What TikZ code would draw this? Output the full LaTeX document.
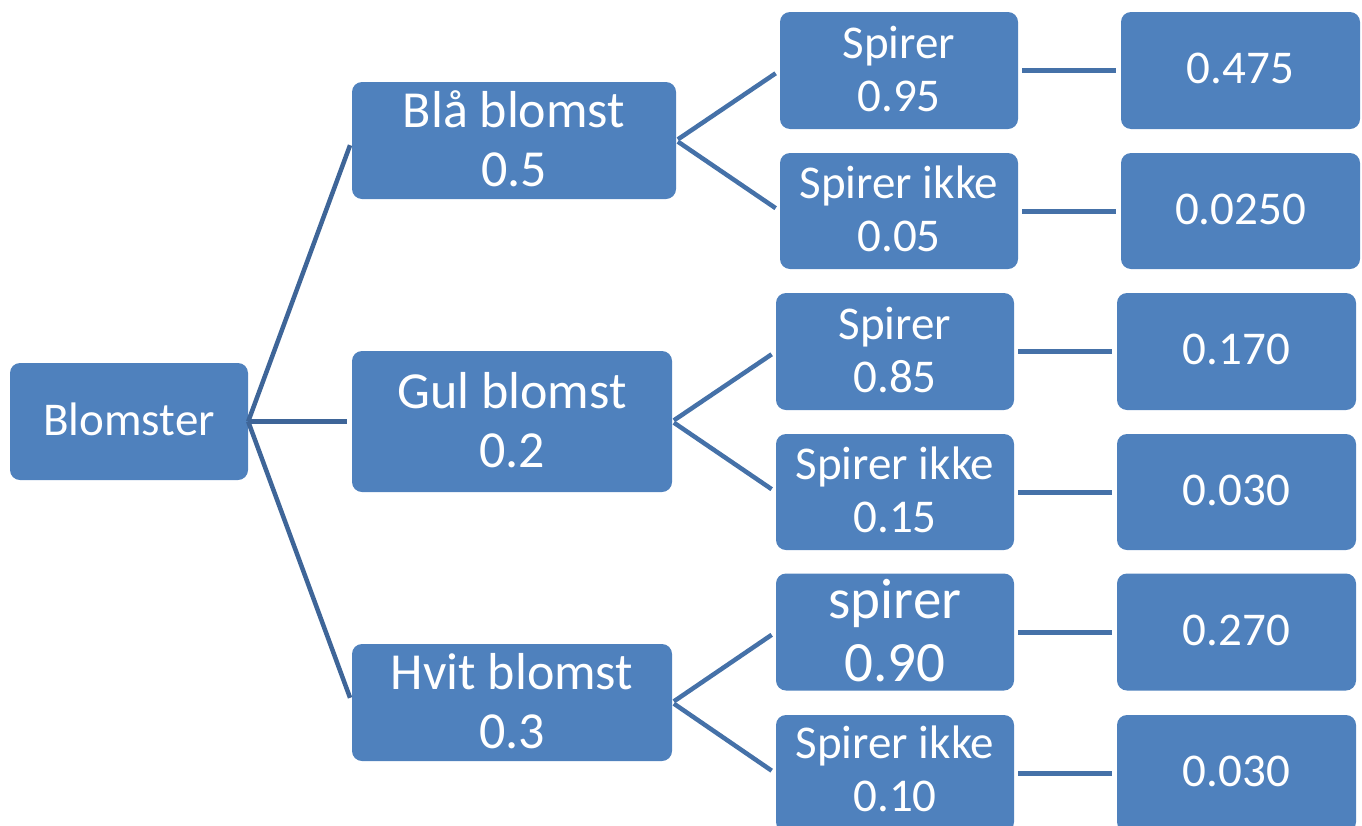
\documentclass[tikz,border=0pt]{standalone}
\usepackage{fontspec}
\setmainfont{Carlito}
\definecolor{boxblue}{HTML}{4F81BD}
\definecolor{rootline}{HTML}{3E6598}
\definecolor{branchline}{HTML}{4571A8}
\begin{document}
\begin{tikzpicture}[x=1pt,y=-1pt,
  box/.style={fill=boxblue, rounded corners=10pt, text=white, align=center,
    inner sep=0pt, minimum height=117pt, text depth=4pt},
  rootbox/.style={box, minimum width=238pt, font=\fontsize{47}{53}\selectfont},
  lvlone/.style={box, font=\fontsize{52}{59}\selectfont},
  lvltwo/.style={box, minimum width=238pt, font=\fontsize{47}{53}\selectfont},
  leaf/.style={box, minimum width=239pt, font=\fontsize{47}{53}\selectfont},
  fan/.style={draw=rootline, line width=4.5pt, shorten >=5pt},
  branch/.style={draw=branchline, line width=4.5pt, shorten >=5pt, shorten <=2pt},
  link/.style={draw=branchline, line width=5pt, shorten >=5pt, shorten <=4pt}
]
\useasboundingbox (0,0) rectangle (1362,825);
\clip (0,0) rectangle (1362,825);

% root
\node[rootbox] (root) at (129,421.5) {Blomster};

% first level
\node[lvlone, minimum width=324pt] (bla) at (514,140.5) {Blå blomst\\0.5};
\node[lvlone, minimum width=320pt, minimum height=141pt] (gul) at (512,421.5) {Gul blomst\\0.2};
\node[lvlone, minimum width=320pt] (hvit) at (512,702.5) {Hvit blomst\\0.3};

% second level
\node[lvltwo] (s1) at (899,70.5) {Spirer\\0.95};
\node[lvltwo, minimum height=116pt] (s2) at (899,211) {Spirer ikke\\0.05};
\node[lvltwo] (s3) at (895,351.5) {Spirer\\0.85};
\node[lvltwo, minimum height=116pt] (s4) at (895,492) {Spirer ikke\\0.15};
\node[lvltwo, font=\fontsize{57}{63}\selectfont] (s5) at (895,632) {spirer\\0.90};
\node[lvltwo, text depth=10pt] (s6) at (895,773.5) {Spirer ikke\\0.10};

% joint probabilities
\node[leaf] (l1) at (1240.5,70.5) {0.475};
\node[leaf, minimum height=116pt] (l2) at (1240.5,211) {0.0250};
\node[leaf] (l3) at (1236.5,351.5) {0.170};
\node[leaf, minimum height=116pt] (l4) at (1236.5,492) {0.030};
\node[leaf] (l5) at (1236.5,632) {0.270};
\node[leaf] (l6) at (1236.5,773.5) {0.030};

% connectors
\draw[fan] (root.east) -- (bla.west);
\draw[fan] (root.east) -- (gul.west);
\draw[fan] (root.east) -- (hvit.west);

\draw[branch] (bla.east) -- (s1.west);
\draw[branch] (bla.east) -- (s2.west);
\draw[branch] (gul.east) -- (s3.west);
\draw[branch] (gul.east) -- (s4.west);
\draw[branch] (hvit.east) -- (s5.west);
\draw[branch] (hvit.east) -- (s6.west);

\draw[link] (s1.east) -- (l1.west);
\draw[link] (s2.east) -- (l2.west);
\draw[link] (s3.east) -- (l3.west);
\draw[link] (s4.east) -- (l4.west);
\draw[link] (s5.east) -- (l5.west);
\draw[link] (s6.east) -- (l6.west);
\end{tikzpicture}
\end{document}
